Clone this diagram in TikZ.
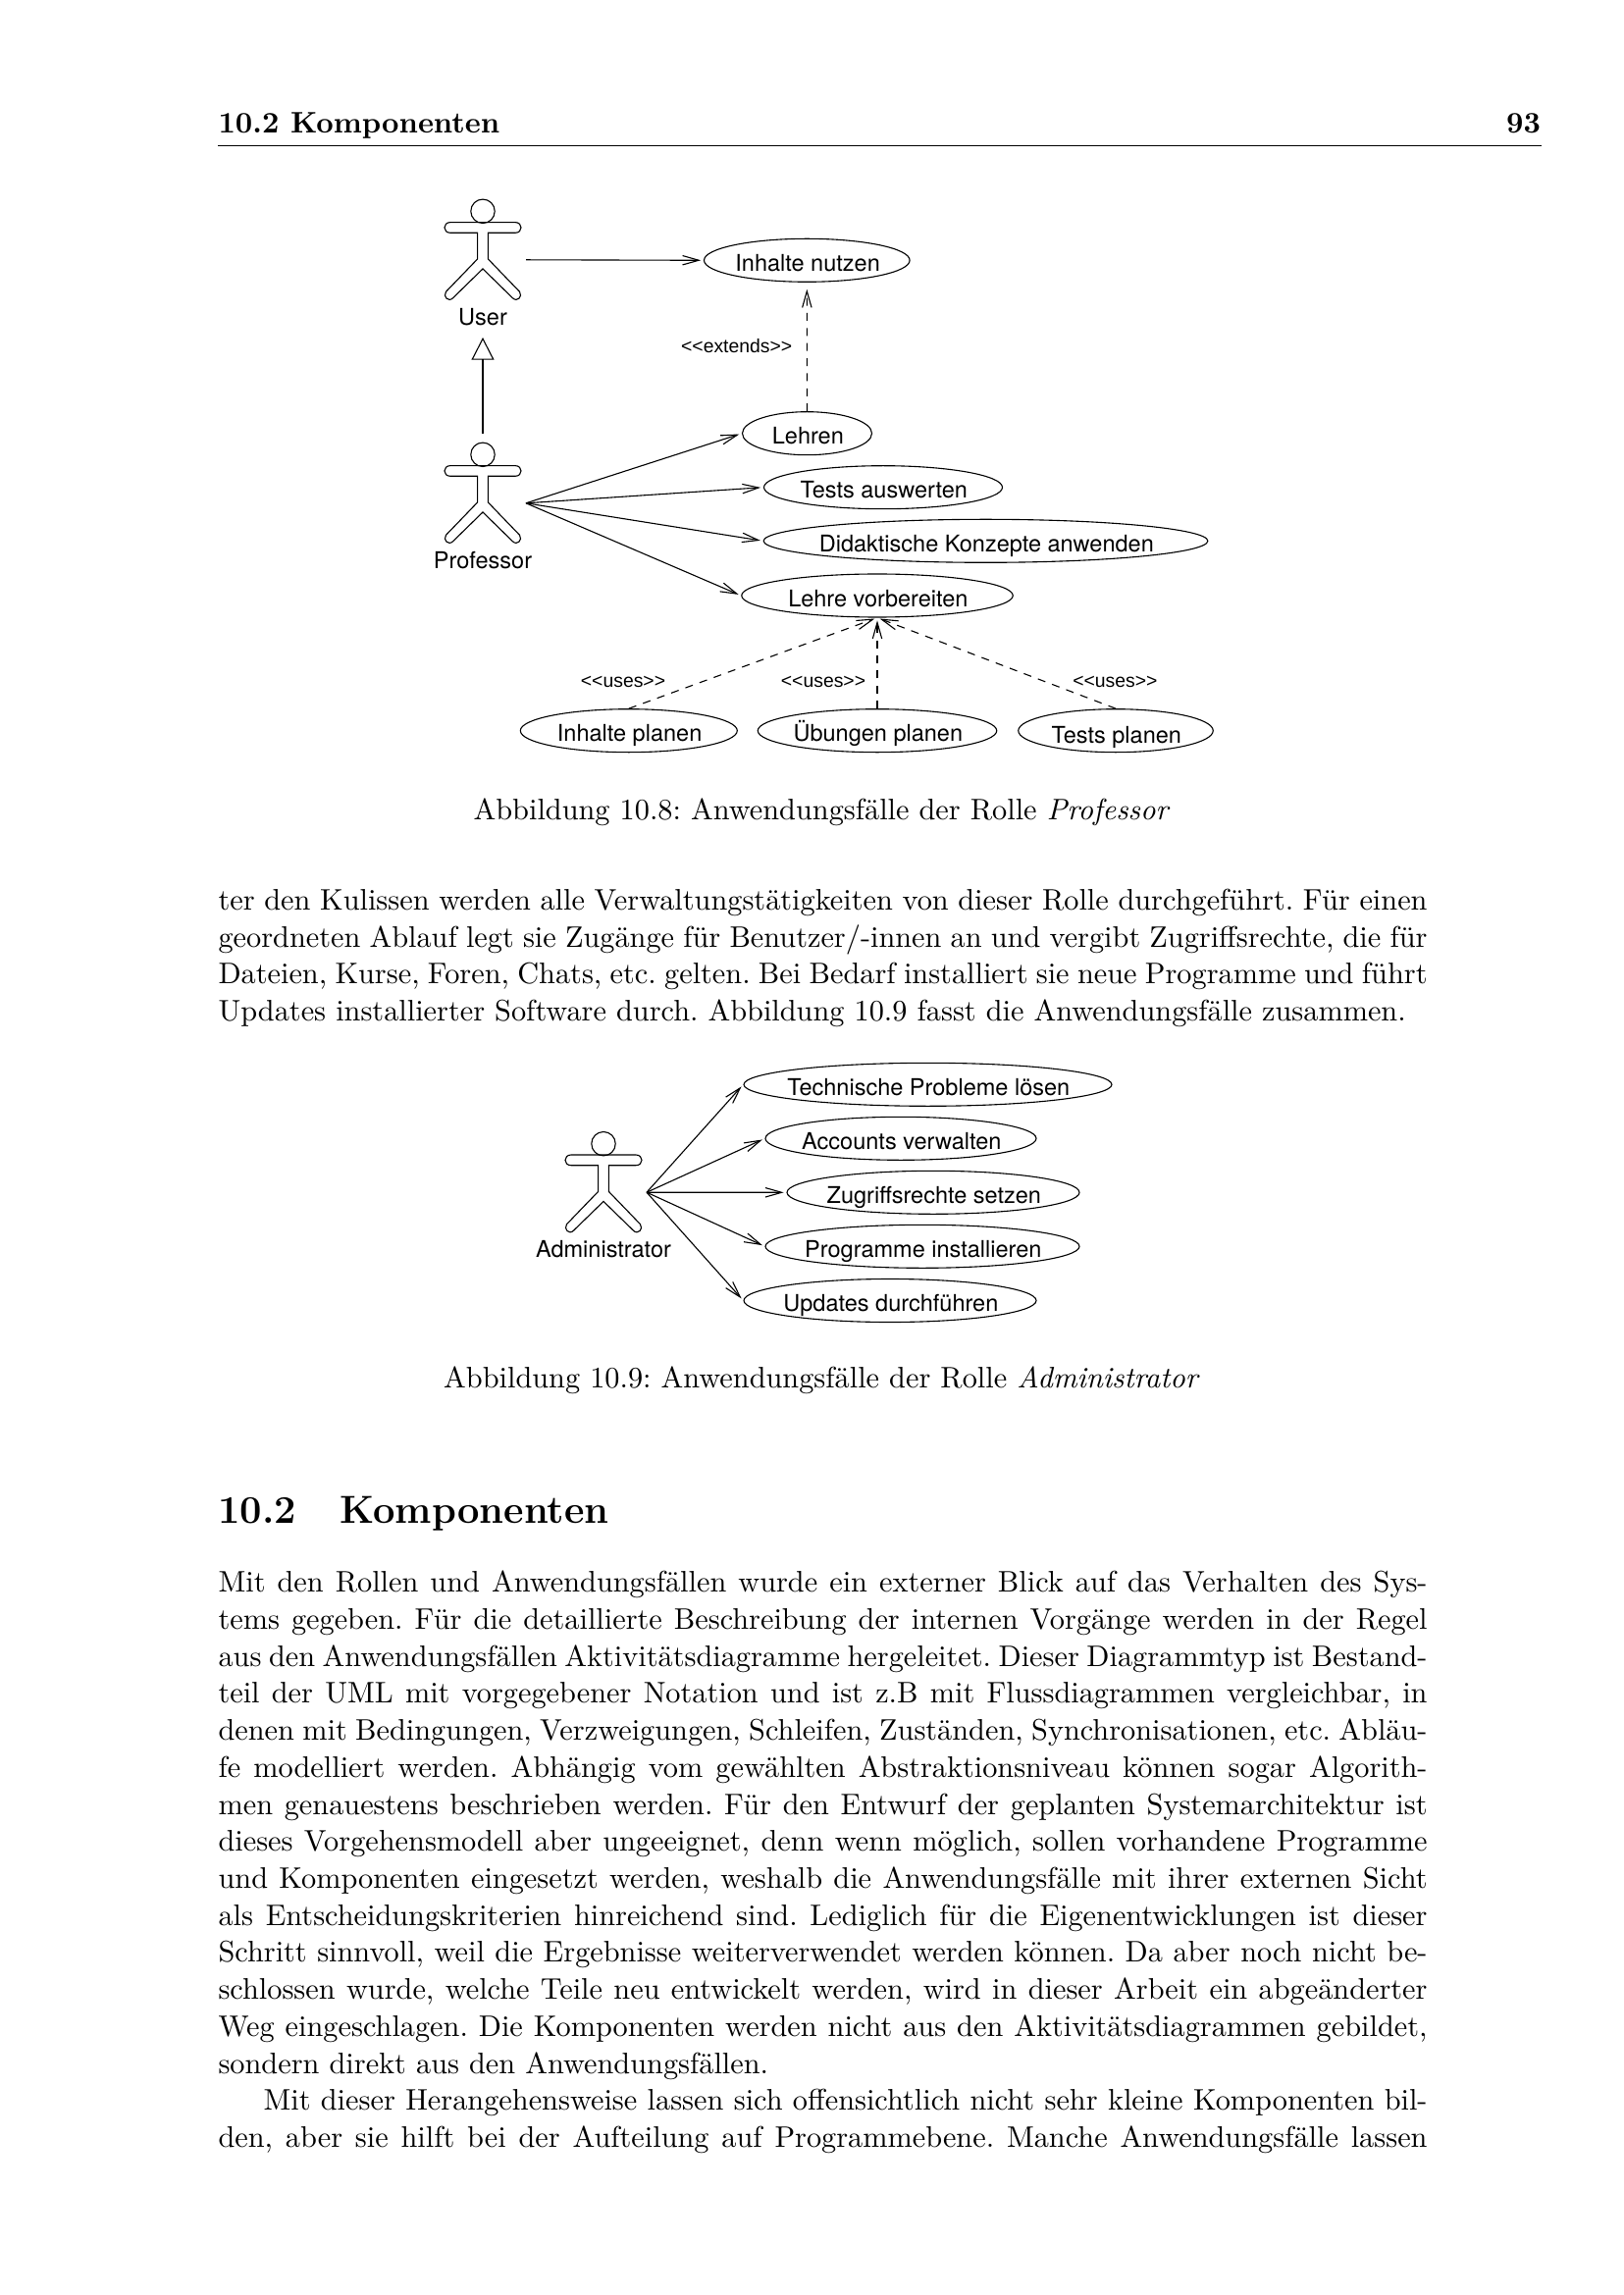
\documentclass[tikz,border=0pt]{standalone}
\usepackage{fontspec}
\usetikzlibrary{shapes.geometric,arrows.meta}
\newfontfamily\umlfont{TeX Gyre Heros}
\newfontfamily\stereofont{Liberation Sans}
\newcommand{\uctext}[1]{\makebox[0pt]{\hspace{0.6pt}#1}}
\frenchspacing
\tikzset{
    usecase/.style={draw, ellipse, line width=0.4pt, inner sep=0pt, minimum width=#1*0.127mm,
        minimum height=44*0.127mm, text height=8pt, text depth=0pt, font=\umlfont\fontsize{8.5}{10}\selectfont},
    assoc/.style={line width=0.4pt, -{Straight Barb[length=6pt,width=3.4pt]}, shorten >=1pt},
    depend/.style={assoc, dash pattern=on 2.9pt off 2.65pt},
    genlink/.style={line width=0.4pt, -{Triangle[open,length=8.2pt,width=8.3pt]}},
    actorname/.style={font=\umlfont\fontsize{8.5}{10}\selectfont, inner sep=0pt},
    stereo/.style={font=\stereofont\fontsize{7}{9}\selectfont, inner sep=0pt},
    bodytext/.style={anchor=north west, inner sep=0pt, text width=1232*0.127mm, align=justify,
        font=\frenchspacing\fontsize{10.95}{13.63}\selectfont},
    capt/.style={anchor=base, inner sep=0pt, font=\frenchspacing\fontsize{10.95}{13.6}\selectfont},
    headtext/.style={anchor=base west, inner sep=0pt, font=\fontsize{10.95}{13.6}\selectfont\bfseries},
    actor/.pic={
        \draw[line width=0.4pt] (0,0) circle (12.2);
        \draw[line width=0.4pt] (-5.4,22) -- (-5.4,48.7) -- (-37.5,82)
            .. controls (-41,87) and (-35,93) .. (-30.5,88.5) -- (0,58.7) -- (30.5,88.5)
            .. controls (35,93) and (41,87) .. (37.5,82) -- (5.4,48.7) -- (5.4,22) -- (33,22)
            .. controls (41,22) and (41,11.3) .. (33,11.3) -- (-33,11.3)
            .. controls (-41,11.3) and (-41,22) .. (-33,22) -- cycle;
        \coordinate (-port) at (44,49.5);
        \coordinate (-top) at (0,-21.6);
        \coordinate (-gen) at (0,128.7);
    }
}

\begin{document}
\begin{tikzpicture}[x=0.127mm, y=-0.127mm]
    \useasboundingbox (0,0) rectangle (1654,2339);
    % Page head
    \node[headtext] (headleft) at (222,136) {10.2 Komponenten};
    \node[headtext, anchor=base east] (headright) at (1570.5,136) {93};
    \coordinate (ruleleft) at (222,148.3);
    \coordinate (ruleright) at (1570.5,148.3);
    \draw[line width=0.4pt] (ruleleft) -- (ruleright);

    % Professor figure
    \path (492,215.3) pic (user) {actor};
    \path (492,463.3) pic (prof) {actor};
    \node[actorname] (username) at (492,323) {User};
    \node[actorname] (profname) at (492,571) {Professor};
    \node[usecase=209.6] (nutzen) at (822.3,265.3) {\uctext{Inhalte nutzen}};
    \node[usecase=132] (lehren) at (822.5,441.7) {\uctext{Lehren}};
    \node[usecase=243] (auswerten) at (900,496.7) {\uctext{Tests auswerten}};
    \node[usecase=452.7] (didaktik) at (1004.5,551.3) {\uctext{Didaktische Konzepte anwenden}};
    \node[usecase=276.5] (vorbereiten) at (894,607) {\uctext{Lehre vorbereiten}};
    \node[usecase=221] (inhalteplan) at (640.8,744.7) {\uctext{Inhalte planen}};
    \node[usecase=243.5] (uebungplan) at (894,744.7) {\uctext{Übungen planen}};
    \node[usecase=198.5] (testplan) at (1137,744.7) {\uctext{\raisebox{-0.7pt}{Tests planen}}};
    \node[stereo] (extendslabel) at (750.7,352.7) {<<extends>>};
    \node[stereo] (useslabela) at (635,695) {<<uses>>};
    \node[stereo] (useslabelb) at (839,695) {<<uses>>};
    \node[stereo] (useslabelc) at (1136.4,695) {<<uses>>};
    \draw[assoc] (user-port) -- (nutzen.west);
    \draw[genlink] (prof-top) -- (user-gen);
    \draw[depend, shorten >=2.5pt] (lehren.north) -- (nutzen.south);
    \draw[assoc] (prof-port) -- (lehren.west);
    \draw[assoc] (prof-port) -- (auswerten.west);
    \draw[assoc] (prof-port) -- (didaktik.west);
    \draw[assoc] (prof-port) -- (vorbereiten.west);
    \draw[depend] (inhalteplan.north) -- (vorbereiten.south);
    \draw[depend] (uebungplan.north) -- (vorbereiten.south);
    \draw[depend] (testplan.north) -- (vorbereiten.south);
    \node[capt] (captprof) at (837.5,835) {Abbildung 10.8: Anwendungsfälle der Rolle \textit{Professor}};

    % First text block
    \node[bodytext] (blockone) at (222,905.5) {ter den Kulissen werden alle Verwaltungstätigkeiten von dieser Rolle durchgeführt. Für einen\linebreak
    geordneten Ablauf legt sie Zugänge für Benutzer/-innen an und vergibt Zugriffsrechte, die für\linebreak
    Dateien, Kurse, Foren, Chats, etc. gelten. Bei Bedarf installiert sie neue Programme und führt\linebreak
    Updates installierter Software durch. Abbildung 10.9 fasst die Anwendungsfälle zusammen.};

    % Administrator figure
    \path (615,1165.7) pic (admin) {actor};
    \node[actorname] (adminname) at (615,1272.7) {Administrator};
    \node[usecase=375] (probleme) at (945.5,1105.3) {\uctext{Technische Probleme lösen}};
    \node[usecase=276] (accounts) at (918,1160.3) {\uctext{Accounts verwalten}};
    \node[usecase=298] (rechte) at (951,1215.3) {\uctext{Zugriffsrechte setzen}};
    \node[usecase=320] (programme) at (940,1270.3) {\uctext{Programme installieren}};
    \node[usecase=298] (updates) at (907,1325.5) {\uctext{Updates durchführen}};
    \draw[assoc] (admin-port) -- (probleme.west);
    \draw[assoc] (admin-port) -- (accounts.west);
    \draw[assoc] (admin-port) -- (rechte.west);
    \draw[assoc] (admin-port) -- (programme.west);
    \draw[assoc] (admin-port) -- (updates.west);
    \node[capt] (captadmin) at (837.5,1414) {Abbildung 10.9: Anwendungsfälle der Rolle \textit{Administrator}};

    % Section heading and second text block
    \node[headtext, font=\fontsize{14.4}{18}\selectfont\bfseries] (secnum) at (222,1552) {10.2};
    \node[headtext, font=\fontsize{14.4}{18}\selectfont\bfseries] (sectitle) at (346,1552) {Komponenten};
    \node[bodytext] (blocktwo) at (222,1600.5) {Mit den Rollen und Anwendungsfällen wurde ein externer Blick auf das Verhalten des Sys-\linebreak
    tems gegeben. Für die detaillierte Beschreibung der internen Vorgänge werden in der Regel\linebreak
    aus den Anwendungsfällen Aktivitätsdiagramme hergeleitet. Dieser Diagrammtyp ist Bestand-\linebreak
    teil der UML mit vorgegebener Notation und ist z.B mit Flussdiagrammen vergleichbar, in\linebreak
    denen mit Bedingungen, Verzweigungen, Schleifen, Zuständen, Synchronisationen, etc. Abläu-\linebreak
    fe modelliert werden. Abhängig vom gewählten Abstraktionsniveau können sogar Algorith-\linebreak
    men genauestens beschrieben werden. Für den Entwurf der geplanten Systemarchitektur ist\linebreak
    dieses Vorgehensmodell aber ungeeignet, denn wenn möglich, sollen vorhandene Programme\linebreak
    und Komponenten eingesetzt werden, weshalb die Anwendungsfälle mit ihrer externen Sicht\linebreak
    als Entscheidungskriterien hinreichend sind. Lediglich für die Eigenentwicklungen ist dieser\linebreak
    Schritt sinnvoll, weil die Ergebnisse weiterverwendet werden können. Da aber noch nicht be-\linebreak
    schlossen wurde, welche Teile neu entwickelt werden, wird in dieser Arbeit ein abgeänderter\linebreak
    Weg eingeschlagen. Die Komponenten werden nicht aus den Aktivitätsdiagrammen gebildet,\linebreak
    sondern direkt aus den Anwendungsfällen.\par
    \hspace*{46\dimexpr0.127mm\relax}Mit dieser Herangehensweise lassen sich offensichtlich nicht sehr kleine Komponenten bil-\linebreak
    den, aber sie hilft bei der Aufteilung auf Programmebene. Manche Anwendungsfälle lassen\parfillskip=0pt\par};
\end{tikzpicture}
\end{document}
